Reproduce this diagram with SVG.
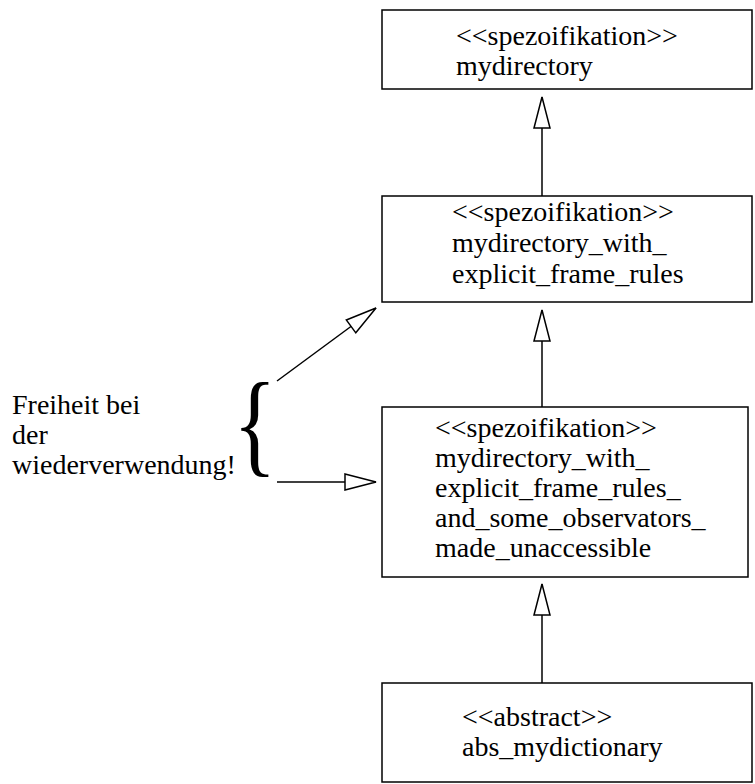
<svg xmlns="http://www.w3.org/2000/svg" width="755" height="784" viewBox="0 0 755 784" font-family="Liberation Serif, Times New Roman, serif">
<defs>
<style>
.box{fill:#fff;stroke:#000;stroke-width:1.5}
.t{font-size:28px;fill:#000}
.brace{font-size:115px;fill:#000}
.c{stroke:#000;stroke-width:1.5;fill:none}
</style>
<marker id="open" viewBox="-2 -2 35 20" refX="31" refY="8" markerWidth="35" markerHeight="20" markerUnits="userSpaceOnUse" orient="auto" overflow="visible">
<path d="M0,0 L31,8 L0,16 Z" fill="#fff" stroke="#000" stroke-width="1.5"/>
</marker>
</defs>
<rect width="755" height="784" fill="#fff"/>
<g id="connectors">
<line class="c" x1="542" y1="196" x2="542" y2="97" marker-end="url(#open)"/>
<line class="c" x1="542" y1="407" x2="542" y2="310" marker-end="url(#open)"/>
<line class="c" x1="542" y1="683" x2="542" y2="584" marker-end="url(#open)"/>
<line class="c" x1="277" y1="381" x2="376" y2="308" marker-end="url(#open)"/>
<line class="c" x1="277" y1="482" x2="376" y2="482" marker-end="url(#open)"/>
</g>
<g id="node-mydirectory">
<rect class="box" x="382" y="10" width="370" height="79"/>
<text class="t" x="456" y="45">&lt;&lt;spezoifikation&gt;&gt;</text>
<text class="t" x="456" y="75">mydirectory</text>
</g>
<g id="node-frame-rules">
<rect class="box" x="382" y="196" width="370" height="106"/>
<text class="t" x="452" y="221">&lt;&lt;spezoifikation&gt;&gt;</text>
<text class="t" x="452" y="252">mydirectory_with_</text>
<text class="t" x="452" y="283">explicit_frame_rules</text>
</g>
<g id="node-observators">
<rect class="box" x="382" y="407" width="366" height="170"/>
<text class="t" x="435" y="437">&lt;&lt;spezoifikation&gt;&gt;</text>
<text class="t" x="435" y="467">mydirectory_with_</text>
<text class="t" x="435" y="497">explicit_frame_rules_</text>
<text class="t" x="435" y="527">and_some_observators_</text>
<text class="t" x="435" y="557">made_unaccessible</text>
</g>
<g id="node-abstract">
<rect class="box" x="382" y="683" width="370" height="99"/>
<text class="t" x="462" y="726">&lt;&lt;abstract&gt;&gt;</text>
<text class="t" x="462" y="756">abs_mydictionary</text>
</g>
<g id="note">
<text class="t" x="12" y="414">Freiheit bei</text>
<text class="t" x="12" y="444">der</text>
<text class="t" x="12" y="474">wiederverwendung!</text>
<text class="brace" transform="translate(233,462) scale(0.79,1)" x="0" y="0">{</text>
</g>
</svg>
